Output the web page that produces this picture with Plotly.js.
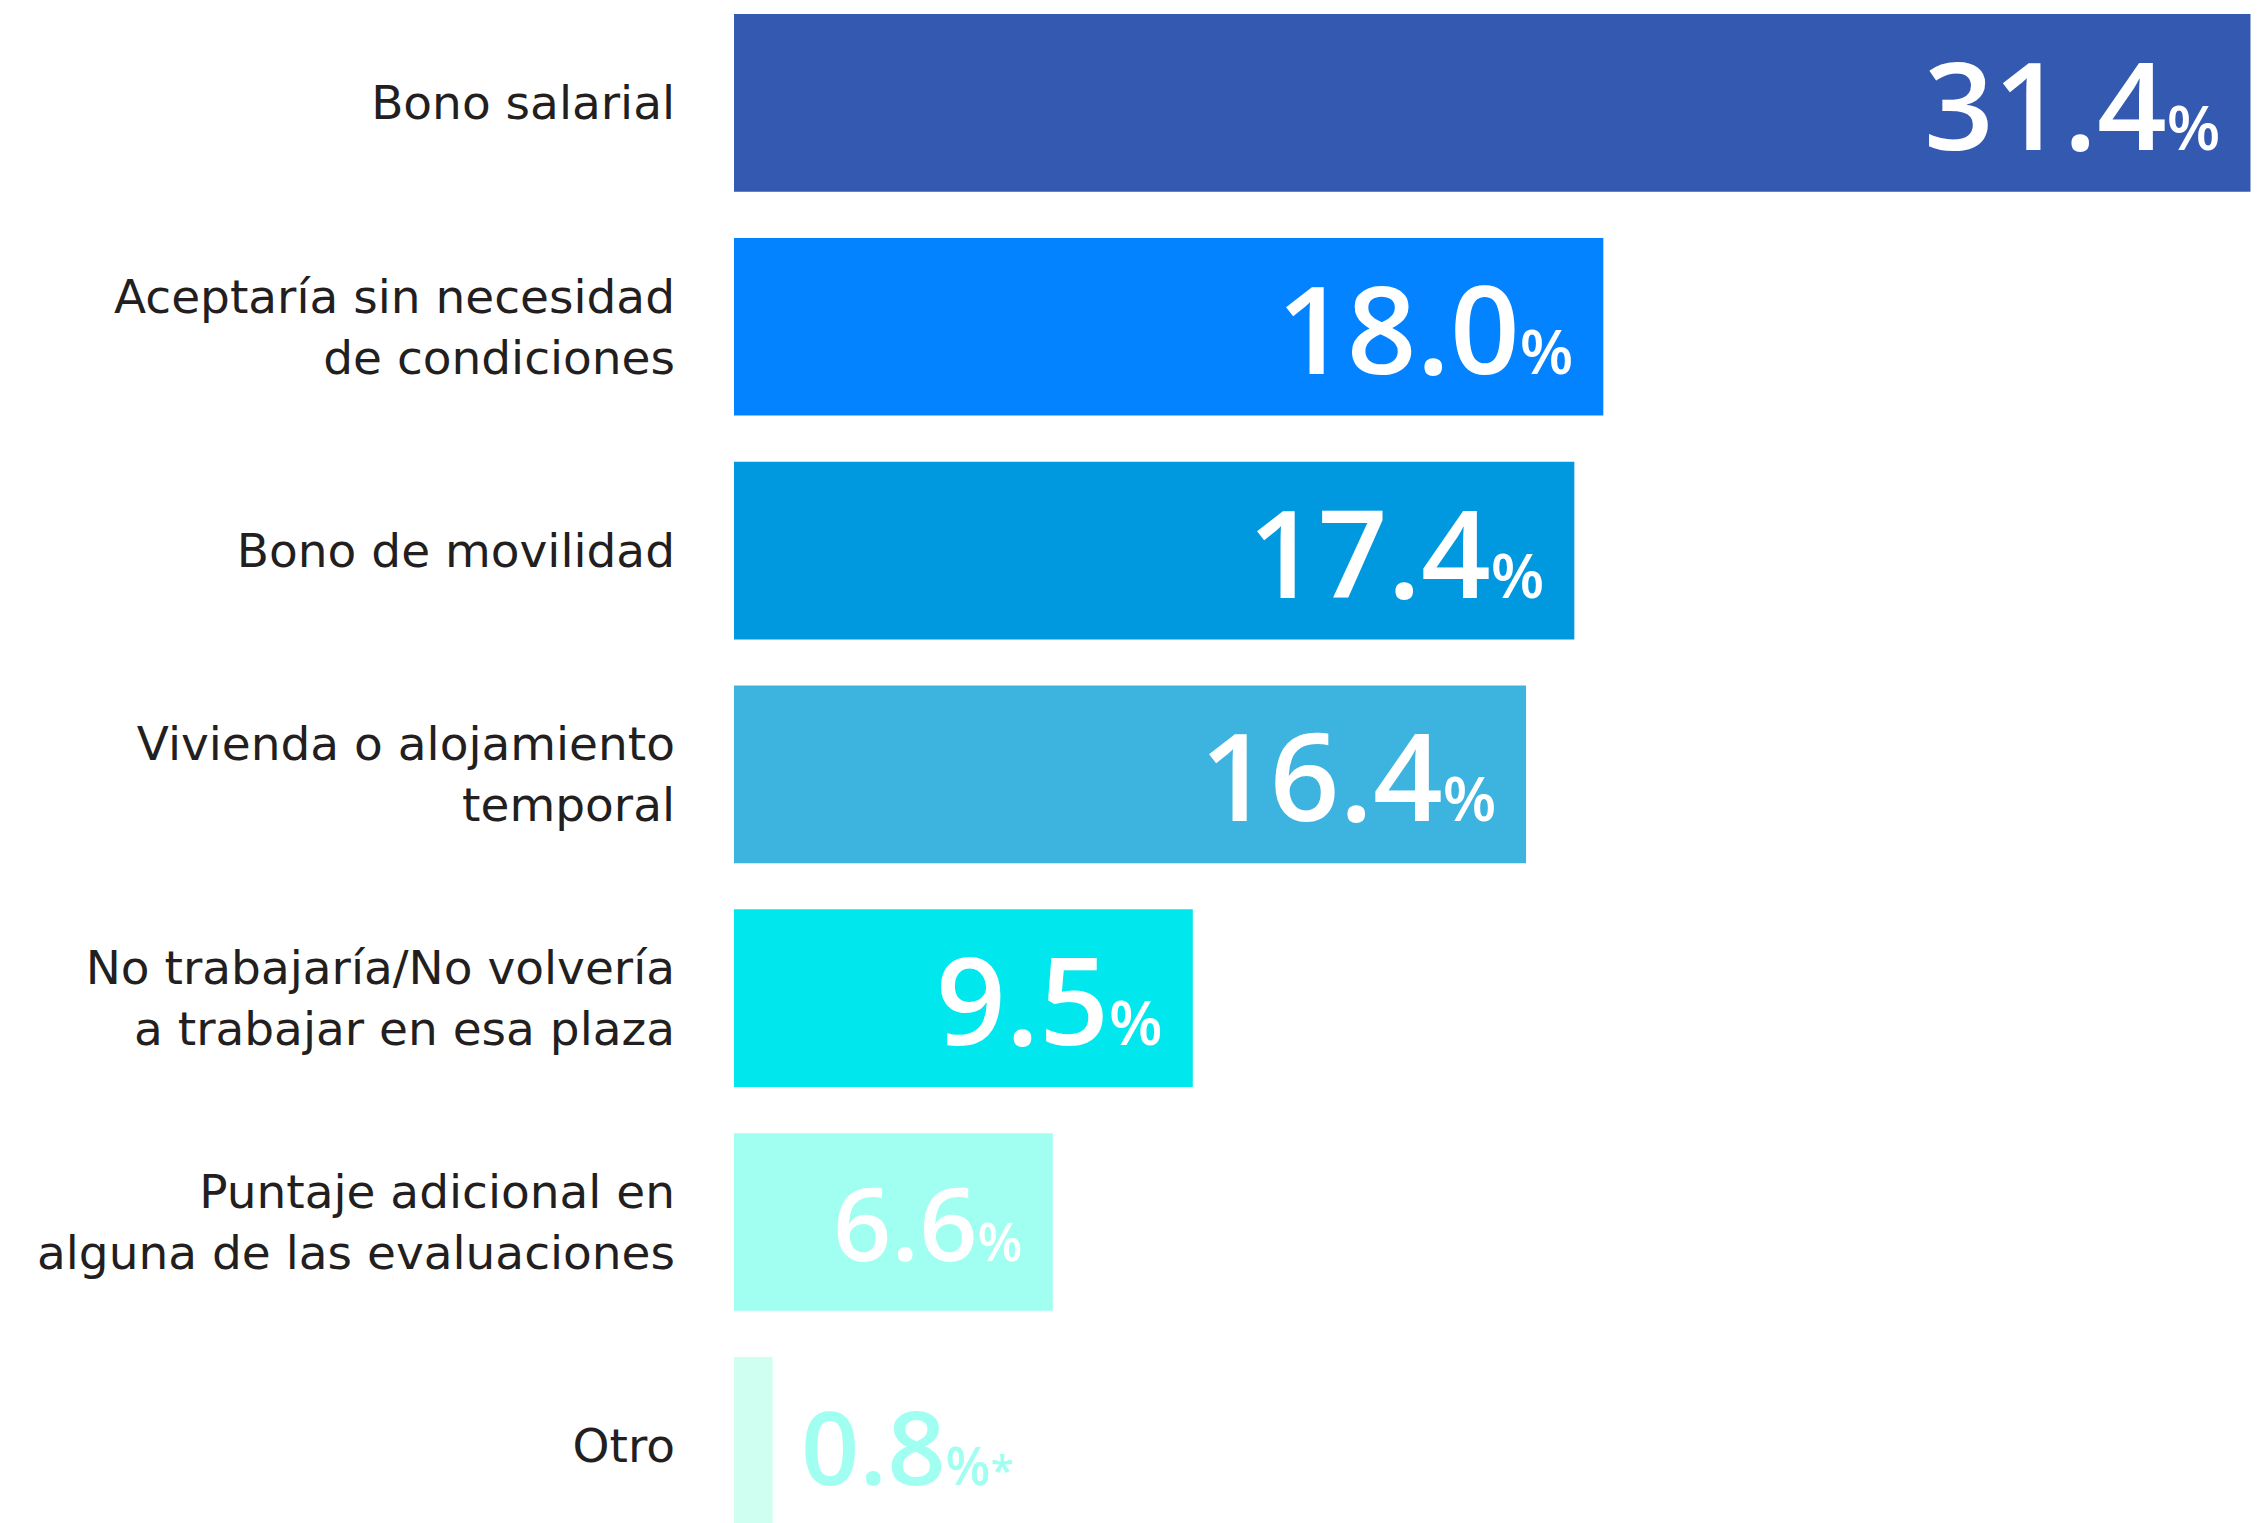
<!DOCTYPE html>
<html>
<head>
<meta charset="utf-8">
<script src="https://cdn.plot.ly/plotly-3.0.1.min.js"></script>
<style>
  html, body { margin: 0; padding: 0; background: #ffffff; }
  #chart { width: 2264px; height: 1523px; }
</style>
</head>
<body>
<div id="chart"></div>
<script>
// ---- data ----
const categories = [
  "Bono salarial",
  "Aceptaría sin necesidad<br>de condiciones",
  "Bono de movilidad",
  "Vivienda o alojamiento<br>temporal",
  "No trabajaría/No volvería<br>a trabajar en esa plaza",
  "Puntaje adicional en<br>alguna de las evaluaciones",
  "Otro"
];
const values = [31.4, 18.0, 17.4, 16.4, 9.5, 6.6, 0.8];
const barColors = ["#3459B0", "#0383FF", "#0098DF", "#3DB3DF", "#00E8EE", "#A0FFF0", "#CFFFF0"];
const valueSuffix = ["%", "%", "%", "%", "%", "%", "%*"];

// ---- styling ----
const labelFont = "DejaVu Sans, Open Sans, sans-serif";
const valueFont = "Open Sans, Lato, sans-serif";

const bigSize = [122, 122, 122, 122, 122, 102, 102];
const pctSize = [62, 62, 62, 62, 62, 52, 52];

const annotations = values.map((v, i) => {
  const outside = i === values.length - 1;
  const suffix = valueSuffix[i] === "%*"
    ? `<span style="font-size:${pctSize[i]}px">%</span><span style="font-size:${Math.round(pctSize[i]*0.8)}px">*</span>`
    : `<span style="font-size:${pctSize[i]}px">%</span>`;
  return {
    x: v,
    y: categories[i],
    xref: "x",
    yref: "y",
    text: v.toFixed(1) + suffix,
    showarrow: false,
    xanchor: outside ? "left" : "right",
    yanchor: "middle",
    xshift: outside ? 26 : -28,
    yshift: 0,
    font: {
      family: valueFont,
      size: bigSize[i],
      color: outside ? "#A0FFF0" : "#FFFFFF",
      weight: 600
    }
  };
});

const trace = {
  type: "bar",
  orientation: "h",
  x: values,
  y: categories,
  marker: { color: barColors, line: { width: 0 } },
  hoverinfo: "none",
  cliponaxis: true
};

const layout = {
  width: 2264,
  height: 1523,
  margin: { l: 734, r: 0, t: 0, b: 0, pad: 0 },
  paper_bgcolor: "#ffffff",
  plot_bgcolor: "#ffffff",
  showlegend: false,
  bargap: 0.206,
  xaxis: {
    range: [0, 31.68],
    showgrid: false,
    zeroline: false,
    showline: false,
    showticklabels: false,
    fixedrange: true
  },
  yaxis: {
    type: "category",
    range: [6.345, -0.46],
    showgrid: false,
    zeroline: false,
    showline: false,
    ticks: "",
    ticklabelstandoff: 58,
    tickfont: { family: labelFont, size: 47, color: "#231F20" },
    fixedrange: true
  },
  annotations: annotations
};

Plotly.newPlot("chart", [trace], layout, { displayModeBar: false, staticPlot: true });
</script>
</body>
</html>
